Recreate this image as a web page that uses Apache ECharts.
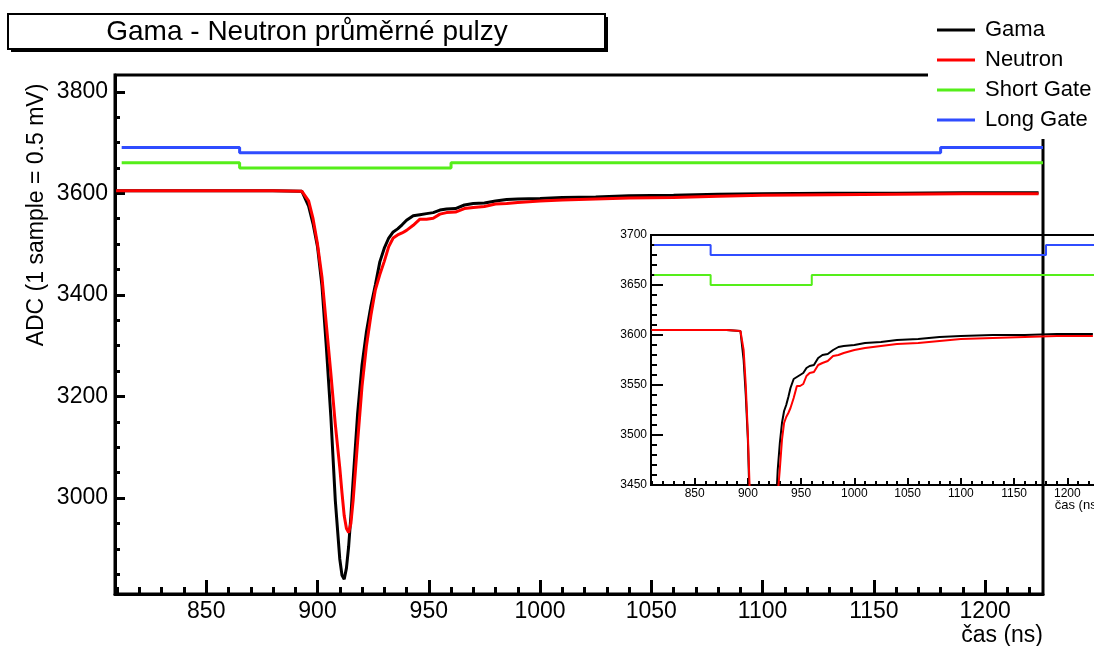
<!DOCTYPE html>
<html>
<head>
<meta charset="utf-8">
<title>Gama - Neutron průměrné pulzy</title>
<script src="https://cdn.jsdelivr.net/npm/echarts@6/dist/echarts.min.js"></script>
<style>
  html, body { margin: 0; padding: 0; background: #fff; }
  #chart { width: 1094px; height: 646px; }
</style>
</head>
<body>
<div id="chart"></div>
<script>
// --- data ---
const timeNs = [809.5, 850, 880, 893, 896, 898, 900, 902, 904, 906, 908, 910, 911, 912, 913, 914,
  915, 916, 918, 920, 922, 924, 926, 928, 930, 932, 934, 936, 938, 940, 943, 946, 949, 952,
  955, 958, 962, 966, 970, 975, 980, 985, 990, 1000, 1010, 1025, 1040, 1060, 1080, 1100,
  1130, 1160, 1190, 1224];
const gamaAdc = [3605, 3605, 3605, 3604, 3575, 3540, 3495, 3418, 3295, 3160, 2995, 2880, 2848, 2840,
  2862, 2905, 2965, 3035, 3165, 3262, 3328, 3378, 3420, 3465, 3492, 3512, 3524, 3530, 3538,
  3547, 3556, 3558, 3560, 3562, 3567, 3569, 3570, 3577, 3580, 3581, 3585, 3588, 3589, 3590,
  3592, 3593, 3595, 3596, 3598, 3599, 3600, 3600, 3601, 3601];
const neutronAdc = [3605, 3605, 3605, 3604, 3585, 3550, 3500, 3435, 3340, 3245, 3145, 3060, 3010,
  2965, 2940, 2932, 2950, 2995, 3110, 3220, 3300, 3360, 3410, 3440, 3466, 3495, 3512, 3518,
  3522, 3527, 3537, 3549, 3549, 3551, 3559, 3562, 3563, 3570, 3572, 3574, 3579, 3580, 3582,
  3585, 3587, 3589, 3591, 3592, 3594, 3596, 3597, 3598, 3599, 3599];
const shortGateNs = [812, 865, 960, 1226];
const shortGateAdc = [3660, 3650, 3660, 3660];
const longGateNs = [812, 865, 1180, 1226];
const longGateAdc = [3690, 3680, 3690, 3690];

// tick labels
const mainXTicks = [850, 900, 950, 1000, 1050, 1100, 1150, 1200];
const mainYTicks = [3000, 3200, 3400, 3600, 3800];
const insetYTicks = [3450, 3500, 3550, 3600, 3650, 3700];

const FONT = '"Liberation Sans", Arial, sans-serif';
const COLORS = { gama: '#000000', neutron: '#ff0000', short: '#55ee1a', long: '#2f4cff' };

const pairs = (xs, ys) => xs.map((x, i) => [x, ys[i]]);
const steps = (from, to, step) => {
  const out = [];
  for (let v = from; v <= to; v += step) out.push(v);
  return out;
};

// main frame ranges
const X_MIN = 809, X_MAX = 1226;
const Y_MIN = 2811, Y_MAX = 3833;

function majorAxis(grid, pos, min, max, ticks, tickLen, fontSize, margin, lineW) {
  return {
    type: 'value', gridIndex: grid, position: pos, min: min, max: max,
    axisLine: { show: true, onZero: false, lineStyle: { color: '#000', width: lineW } },
    axisTick: { show: true, inside: true, length: tickLen, customValues: ticks, lineStyle: { color: '#000', width: lineW } },
    axisLabel: { show: true, customValues: ticks, color: '#000', fontSize: fontSize, fontFamily: FONT, margin: margin,
      formatter: v => String(v) },
    splitLine: { show: false }
  };
}
function minorAxis(grid, pos, min, max, ticks, tickLen, lineW) {
  return {
    type: 'value', gridIndex: grid, position: pos, min: min, max: max,
    axisLine: { show: false },
    axisTick: { show: true, inside: true, length: tickLen, customValues: ticks, lineStyle: { color: '#000', width: lineW } },
    axisLabel: { show: false },
    splitLine: { show: false }
  };
}

const chart = echarts.init(document.getElementById('chart'));

const lineSeries = (name, data, color, xi, yi, width, step) => ({
  name: name, type: 'line', xAxisIndex: xi, yAxisIndex: yi,
  data: data, symbol: 'none', step: step || false, clip: true,
  lineStyle: { color: color, width: width }, itemStyle: { color: color },
  animation: false
});

chart.setOption({
  backgroundColor: '#fff',
  animation: false,
  textStyle: { fontFamily: FONT },
  grid: [
    { left: 115, top: 75, width: 928, height: 519, show: true, borderColor: '#000', borderWidth: 3,
      outerBoundsMode: 'none', containLabel: false },
    { left: 651, top: 235, width: 444, height: 250, show: true, borderColor: '#000', borderWidth: 2,
      outerBoundsMode: 'none', containLabel: false }
  ],
  xAxis: [
    Object.assign(majorAxis(0, 'bottom', X_MIN, X_MAX, mainXTicks, 14, 23, 6, 3), {
      name: 'čas (ns)', nameLocation: 'end', nameGap: 0, nameMoveOverlap: false,
      nameTextStyle: { color: '#000', fontSize: 23, fontFamily: FONT, align: 'right', verticalAlign: 'top', padding: [30, 0, 0, 0] }
    }),
    minorAxis(0, 'bottom', X_MIN, X_MAX, steps(810, 1220, 10), 7, 3),
    Object.assign(majorAxis(1, 'bottom', X_MIN, X_MAX, mainXTicks, 7, 12, 3, 2), {
      name: 'čas (ns)', nameLocation: 'end', nameGap: 6, nameMoveOverlap: false,
      nameTextStyle: { color: '#000', fontSize: 13, fontFamily: FONT, align: 'right', verticalAlign: 'top', padding: [14, 0, 0, 0] }
    }),
    minorAxis(1, 'bottom', X_MIN, X_MAX, steps(810, 1220, 10), 4, 2)
  ],
  yAxis: [
    majorAxis(0, 'left', Y_MIN, Y_MAX, mainYTicks, 10, 23, 7, 3),
    minorAxis(0, 'left', Y_MIN, Y_MAX, steps(2850, 3800, 50), 5, 3),
    majorAxis(1, 'left', 3450, 3700, insetYTicks, 12, 12, 4, 2),
    minorAxis(1, 'left', 3450, 3700, steps(3460, 3690, 10), 6, 2)
  ],
  legend: {
    orient: 'vertical', left: 928, top: 0,
    backgroundColor: '#fff', padding: [19, 6, 8, 9],
    itemGap: 8, itemWidth: 38, itemHeight: 3, icon: 'rect',
    textStyle: { color: '#000', fontSize: 22, fontFamily: FONT, padding: [0, 0, 0, 5] },
    data: ['Gama', 'Neutron', 'Short Gate', 'Long Gate']
  },
  graphic: [
    // title box with ROOT-like shadow
    { type: 'rect', z: 10, shape: { x: 11, y: 17, width: 597, height: 35 }, style: { fill: '#000' } },
    { type: 'rect', z: 11, shape: { x: 8, y: 14, width: 597, height: 35 },
      style: { fill: '#fff', stroke: '#000', lineWidth: 2 } },
    { type: 'text', z: 12, x: 307, y: 32,
      style: { text: 'Gama - Neutron průměrné pulzy', fill: '#000', font: '28px ' + FONT,
        align: 'center', verticalAlign: 'middle', textAlign: 'center', textVerticalAlign: 'middle' } },
    { type: 'text', z: 12, x: 37, y: 215, rotation: Math.PI / 2,
      style: { text: 'ADC (1 sample = 0.5 mV)', fill: '#000', font: '23px ' + FONT,
        align: 'center', verticalAlign: 'middle', textAlign: 'center', textVerticalAlign: 'middle' } }
  ],
  series: [
    lineSeries('Gama', pairs(timeNs, gamaAdc), COLORS.gama, 0, 0, 3),
    lineSeries('Neutron', pairs(timeNs, neutronAdc), COLORS.neutron, 0, 0, 3),
    lineSeries('Short Gate', pairs(shortGateNs, shortGateAdc), COLORS.short, 0, 0, 3, 'end'),
    lineSeries('Long Gate', pairs(longGateNs, longGateAdc), COLORS.long, 0, 0, 3, 'end'),
    // inset zoom
    lineSeries('Gama', pairs(timeNs, gamaAdc), COLORS.gama, 2, 2, 2),
    lineSeries('Neutron', pairs(timeNs, neutronAdc), COLORS.neutron, 2, 2, 2),
    lineSeries('Short Gate', pairs(shortGateNs, shortGateAdc), COLORS.short, 2, 2, 2, 'end'),
    lineSeries('Long Gate', pairs(longGateNs, longGateAdc), COLORS.long, 2, 2, 2, 'end')
  ]
});
</script>
</body>
</html>
